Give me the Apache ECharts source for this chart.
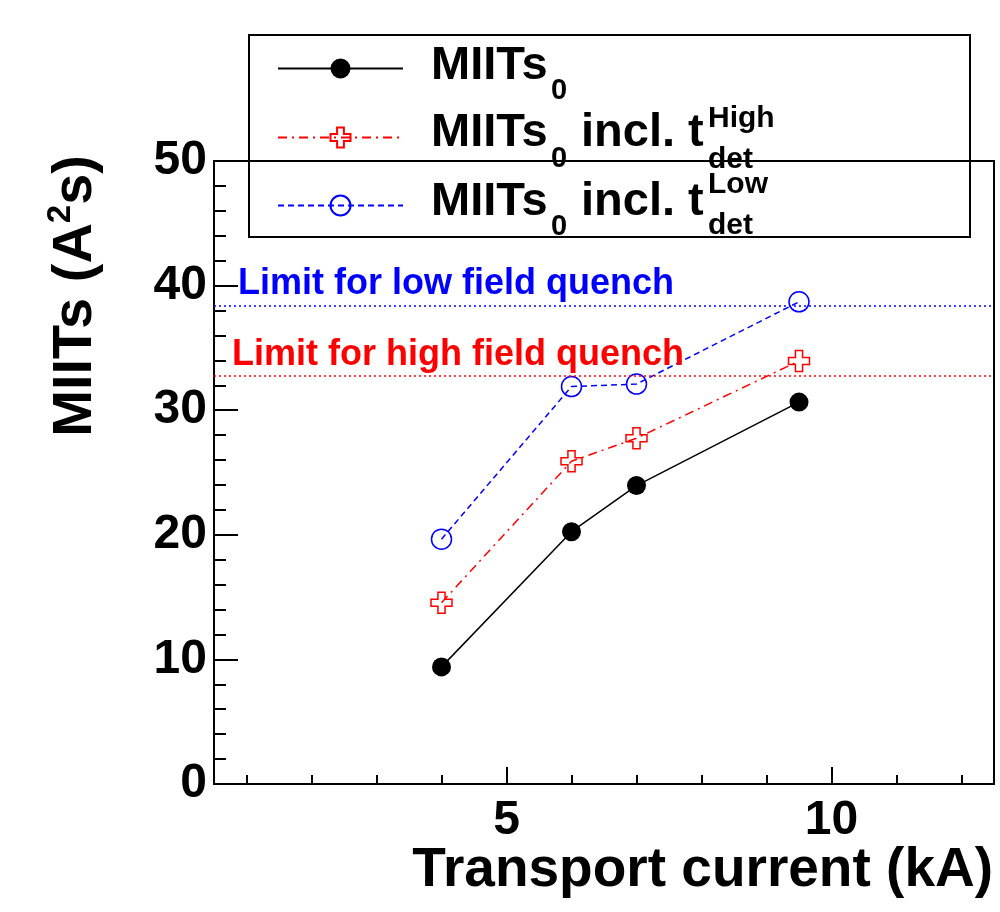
<!DOCTYPE html>
<html>
<head>
<meta charset="utf-8">
<script src="https://cdn.jsdelivr.net/npm/echarts@6/dist/echarts.min.js"></script>
<style>
html,body{margin:0;padding:0;background:#fff;}
#chart{width:1000px;height:912px;}
</style>
</head>
<body>
<div id="chart"></div>
<script>
// ---- data ----
const current = [4.0, 6.0, 7.0, 9.5];                 // Transport current (kA)
const miits0 = [9.4, 20.25, 23.95, 30.65];            // MIITs_0
const miitsHigh = [14.55, 25.9, 27.75, 33.95];        // MIITs_0 incl. t_det^High
const miitsLow = [19.65, 31.9, 32.1, 38.7];           // MIITs_0 incl. t_det^Low
const limitLow = 38.4;                                // Limit for low field quench
const limitHigh = 32.75;                              // Limit for high field quench
const xMajorTicks = [5, 10];
const xMinorTicks = [1, 2, 3, 4, 6, 7, 8, 9, 11, 12];
const seriesNames = ['MIITs0', 'MIITs0 incl. tHigh', 'MIITs0 incl. tLow'];

const FONT = '"Liberation Sans", Arial, Helvetica, sans-serif';
const crossPath = 'path://M3.3,0 L6.7,0 L6.7,3.3 L10,3.3 L10,6.7 L6.7,6.7 L6.7,10 L3.3,10 L3.3,6.7 L0,6.7 L0,3.3 L3.3,3.3 Z';

function pairs(xs, ys) { return xs.map((x, i) => [x, ys[i]]); }

const chart = echarts.init(document.getElementById('chart'), null, {renderer: 'canvas'});

const legendRows = [68, 137, 205];
const legends = seriesNames.map((n, i) => ({
  data: [n], left: 277, top: legendRows[i] - 12, itemWidth: 125, itemHeight: 25, z: 60,
  padding: 0, selectedMode: false, formatter: () => '', textStyle: {fontSize: 1}
}));

function txt(x, y, text, size, color, extra) {
  return Object.assign({
    type: 'text', x: x, y: y, z: 100,
    style: {text: text, fontFamily: FONT, fontWeight: 'bold', fontSize: size, fill: color || '#000',
            align: 'left', verticalAlign: 'middle'}
  }, extra || {});
}

const graphics = [
  {type: 'rect', shape: {x: 249, y: 35, width: 721, height: 202}, z: 50,
   style: {fill: 'none', stroke: '#000', lineWidth: 2}},
  // legend row 1
  txt(431, 66, 'MIITs', 47), txt(551, 91, '0', 29),
  // row 2
  txt(431, 133, 'MIITs', 47), txt(551, 159, '0', 29), txt(581, 133, 'incl. t', 47),
  txt(708, 119, 'High', 30), txt(708, 160, 'det', 30),
  // row 3
  txt(431, 202, 'MIITs', 47), txt(551, 227, '0', 29), txt(581, 202, 'incl. t', 47),
  txt(708, 185, 'Low', 30), txt(708, 226, 'det', 30),
  // axis titles
  {type: 'text', x: 993, y: 871, z: 100,
   style: {text: 'Transport current (kA)', fontFamily: FONT, fontWeight: 'bold', fontSize: 55,
           fill: '#000', align: 'right', verticalAlign: 'middle'}},
  {type: 'text', x: 76, y: 155, rotation: Math.PI / 2, z: 100,
   style: {text: '{a|MIITs (A}{s|2}{a|s)}', fontFamily: FONT, fontWeight: 'bold', fontSize: 56,
           fill: '#000', align: 'right', verticalAlign: 'middle',
           rich: {a: {fontFamily: FONT, fontWeight: 'bold', fontSize: 56, lineHeight: 64},
                  s: {fontFamily: FONT, fontWeight: 'bold', fontSize: 33, lineHeight: 64, verticalAlign: 'top'}}}}
];

const option = {
  backgroundColor: '#fff',
  animation: false,
  grid: {left: 214, right: 6, top: 161, bottom: 128, show: true, borderColor: '#000', borderWidth: 2, backgroundColor: 'transparent'},
  legend: legends,
  xAxis: [
    {type: 'value', min: 0.5, max: 12.5, position: 'bottom',
     axisLine: {show: true, lineStyle: {color: '#000', width: 2}},
     axisTick: {show: true, inside: true, length: 17, customValues: xMajorTicks, lineStyle: {color: '#000', width: 2}},
     axisLabel: {customValues: xMajorTicks, color: '#000', fontFamily: FONT, fontWeight: 'bold', fontSize: 48, margin: 13},
     splitLine: {show: false}},
    {type: 'value', min: 0.5, max: 12.5, position: 'bottom', offset: 0,
     axisLine: {show: false},
     axisTick: {show: true, inside: true, length: 9, customValues: xMinorTicks, lineStyle: {color: '#000', width: 2}},
     axisLabel: {show: false}, splitLine: {show: false}}
  ],
  yAxis: {type: 'value', min: 0, max: 50, interval: 10,
    axisLine: {show: true, lineStyle: {color: '#000', width: 2}},
    axisTick: {show: true, inside: true, length: 24, lineStyle: {color: '#000', width: 2}},
    minorTick: {show: true, splitNumber: 5, length: 12, lineStyle: {color: '#000', width: 2}},
    axisLabel: {color: '#000', fontFamily: FONT, fontWeight: 'bold', fontSize: 48, margin: 7},
    splitLine: {show: false}, minorSplitLine: {show: false}},
  graphic: graphics,
  series: [
    {name: seriesNames[0], type: 'line', xAxisIndex: 0, data: pairs(current, miits0),
     symbol: 'circle', symbolSize: 19, z: 5,
     itemStyle: {color: '#000'}, lineStyle: {color: '#000', width: 1.5},
     emphasis: {disabled: true},
     markLine: {silent: true, symbol: ['none', 'none'], animation: false,
       data: [
         {yAxis: limitLow, lineStyle: {color: '#0000ff', type: [2, 3], width: 1.5},
          label: {show: true, position: 'insideStartTop', distance: [24, 3], formatter: 'Limit for low field quench',
                  color: '#0000ff', fontFamily: FONT, fontWeight: 'bold', fontSize: 36}},
         {yAxis: limitHigh, lineStyle: {color: '#ff0000', type: [2, 3], width: 1.5},
          label: {show: true, position: 'insideStartTop', distance: [18, 3], formatter: 'Limit for high field quench',
                  color: '#ff0000', fontFamily: FONT, fontWeight: 'bold', fontSize: 36}}
       ]}},
    {name: seriesNames[1], type: 'line', xAxisIndex: 0, data: pairs(current, miitsHigh),
     symbol: crossPath, symbolSize: 21, z: 4,
     itemStyle: {color: 'transparent', borderColor: '#ff0000', borderWidth: 1.5},
     lineStyle: {color: '#ff0000', width: 1.5, type: [9, 5, 2, 5]},
     emphasis: {disabled: true}},
    {name: seriesNames[2], type: 'line', xAxisIndex: 0, data: pairs(current, miitsLow),
     symbol: 'circle', symbolSize: 20, z: 3,
     itemStyle: {color: 'transparent', borderColor: '#0000ff', borderWidth: 1.5},
     lineStyle: {color: '#0000ff', width: 1.5, type: [6, 4]},
     emphasis: {disabled: true}}
  ]
};
chart.setOption(option);
</script>
</body>
</html>
